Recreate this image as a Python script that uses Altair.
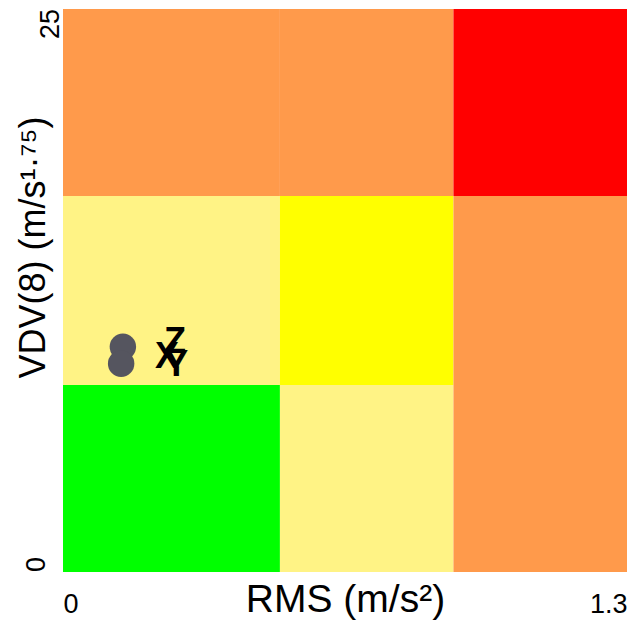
import altair as alt
import pandas as pd

# Zone boundaries (RMS on x, VDV on y) and the colour of each zone, row by row from the bottom
x_edges = [0.0, 0.5, 0.9, 1.3]
y_edges = [0.0, 8.3, 16.7, 25.0]
zone_colors = [
    ["#00FF00", "#FFF385", "#FF9A4B"],
    ["#FFF385", "#FFFF00", "#FF9A4B"],
    ["#FF9A4B", "#FF9A4B", "#FF0000"],
]

# Measured points
pt_rms = [0.138, 0.134]
pt_vdv = [10.0, 9.25]

# Axis-direction markers
lbl_text = ["Z", "X", "Y"]
lbl_rms = [0.258, 0.240, 0.261]
lbl_vdv = [10.2, 9.55, 9.2]

# Y tick labels
ytick_vals = [0, 25]
ytick_text = ["0", "25"]

zones = pd.DataFrame([
    {"x0": x_edges[c], "x1": x_edges[c + 1], "y0": y_edges[r], "y1": y_edges[r + 1],
     "col": zone_colors[r][c]}
    for r in range(3) for c in range(3)
])
pts = pd.DataFrame({"rms": pt_rms, "vdv": pt_vdv})
lbls = pd.DataFrame({"t": lbl_text, "rms": lbl_rms, "vdv": lbl_vdv})
yt = pd.DataFrame({"v": ytick_vals, "t": ytick_text})

FONT = "Liberation Sans"

xs = alt.Scale(domain=[0, 1.3], nice=False, zero=False)
ys = alt.Scale(domain=[0, 25], nice=False, zero=False)

xaxis = alt.Axis(values=[0, 1.3], labelExpr="datum.value == 0 ? '0' : '1.3'",
                 domain=False, ticks=False, tickSize=0, grid=False,
                 labelFlush=True, labelFont=FONT, labelFontSize=27, labelColor="black",
                 labelBaseline="alphabetic", labelPadding=40,
                 title="RMS (m/s²)", titleFont=FONT, titleFontSize=39, titleFontWeight="normal",
                 titleColor="black", titleBaseline="alphabetic", titleY=39)
yaxis = alt.Axis(labels=False, domain=False, ticks=False, tickSize=0, grid=False,
                 title="VDV(8) (m/s¹·⁷⁵)", titleFont=FONT, titleFontSize=36,
                 titleFontWeight="normal", titleColor="black", titleAngle=270,
                 titleBaseline="alphabetic", titleX=-19, titleY=238)

rects = alt.Chart(zones).mark_rect().encode(
    x=alt.X("x0:Q", scale=xs, axis=xaxis),
    x2="x1",
    y=alt.Y("y0:Q", scale=ys, axis=yaxis),
    y2="y1",
    color=alt.Color("col:N", scale=None),
)

dots = alt.Chart(pts).mark_circle(size=700, opacity=1, color="#55555F").encode(
    x=alt.X("rms:Q", scale=xs), y=alt.Y("vdv:Q", scale=ys)
)

marks = alt.Chart(lbls).mark_text(font=FONT, fontSize=36, fontWeight="bold", color="black",
                                  align="center", baseline="middle").encode(
    x=alt.X("rms:Q", scale=xs), y=alt.Y("vdv:Q", scale=ys), text="t:N"
)

ytick0 = alt.Chart(yt[yt.v == 0]).mark_text(font=FONT, fontSize=27, color="black", angle=270,
                                            baseline="alphabetic", align="left").encode(
    x=alt.value(-18), y=alt.Y("v:Q", scale=ys), text="t:N")
ytick25 = alt.Chart(yt[yt.v == 25]).mark_text(font=FONT, fontSize=27, color="black", angle=270,
                                              baseline="alphabetic", align="right", dy=14).encode(
    x=alt.value(-18), y=alt.Y("v:Q", scale=ys), text="t:N")

chart = alt.layer(rects, dots, marks, ytick0, ytick25).properties(
    width=564, height=563,
    background="white",
    padding={"left": 63, "top": 9, "right": 4, "bottom": 53},
    autosize=alt.AutoSizeParams(type="none"),
).configure_view(stroke=None)

chart.save("out.html", embed_options={"renderer": "svg", "actions": False})
